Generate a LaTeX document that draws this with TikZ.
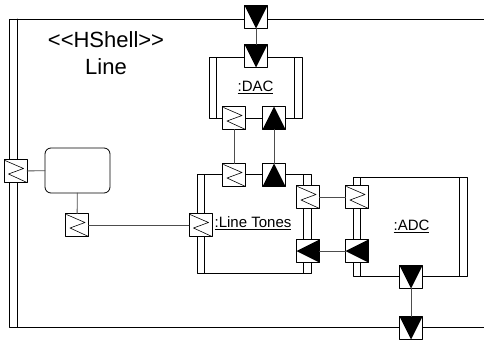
\documentclass[tikz,border=0pt]{standalone}
\usepackage{fontspec}
\setmainfont{Liberation Sans}
\usepackage{tikz}
\usetikzlibrary{arrows.meta,positioning}
\definecolor{ink}{HTML}{000000}
\definecolor{wire}{HTML}{4D4D4D}
\tikzset{
    every picture/.style={line cap=round,line join=round},
    portbox/.style={draw=ink,fill=white,line width=0.8pt,
      minimum size=23pt,inner sep=0pt,outer sep=0pt},
    relayport/.style={portbox,path picture={
      \draw[ink,line width=0.6pt]
        ([shift={(1pt,-1pt)}]path picture bounding box.north west)
        -- ++(18.5pt,-8pt) -- ++(-15pt,-5.5pt)
        -- (path picture bounding box.south east);}},
    downport/.style={portbox,path picture={
      \fill[ink] (path picture bounding box.north west)
        -- (path picture bounding box.north east)
        -- (path picture bounding box.south) -- cycle;}},
    upport/.style={portbox,path picture={
      \fill[ink] (path picture bounding box.south west)
        -- (path picture bounding box.south east)
        -- (path picture bounding box.north) -- cycle;}},
    leftport/.style={portbox,path picture={
      \fill[ink] (path picture bounding box.north east)
        -- (path picture bounding box.south east)
        -- (path picture bounding box.west) -- cycle;}},
    capsule/.style={draw=ink,fill=white,line width=0.8pt,inner sep=0pt,outer sep=0pt,
      font=\fontsize{15}{18}\selectfont,path picture={
      \draw[ink,line width=0.8pt]
        ([xshift=7.5pt]path picture bounding box.north west)
        -- ([xshift=7.5pt]path picture bounding box.south west);
      \draw[ink,line width=0.8pt]
        ([xshift=-7.5pt]path picture bounding box.north east)
        -- ([xshift=-7.5pt]path picture bounding box.south east);}},
    shellbox/.style={draw=ink,fill=white,line width=0.8pt,rounded corners=6pt,
      minimum width=65pt,minimum height=45pt,outer sep=0pt},
    wire/.style={draw=wire,line width=0.8pt}
}

\begin{document}
\begin{tikzpicture}[x=1pt,y=-1pt]
  \useasboundingbox (0,0) rectangle (484,340);

  % the HShell frame
  \draw[ink,line width=0.8pt] (484,19) -- (9,19) -- (9,327) -- (484,327);
  \draw[ink,line width=0.8pt] (17,19) -- (17,327);
  \node[font=\fontsize{22}{27}\selectfont,align=center] (title) at (106,53.5)
    {<\kern0pt<HShell>\kern0pt>\\Line};

  % parts
  \node[capsule,minimum width=93pt,minimum height=61pt] (dac) at (255.5,87.5) {\underline{:DAC}};
  \node[capsule,minimum width=114pt,minimum height=99pt] (tones) at (254,223.5) {\underline{:Line Tones}\hspace*{2pt}};
  \node[capsule,minimum width=114pt,minimum height=99pt] (adc) at (410,226.5) {\hspace*{3pt}\underline{:ADC}};
  \node[shellbox] (shell) at (77.5,170.5) {};

  % ports
  \node[downport] (ftop) at (256,17) {};
  \node[downport] (fbot) at (411,328) {};
  \node[relayport] (fleft) at (15.5,171) {};
  \node[relayport] (shellp) at (77,225) {};
  \node[downport] (dacin) at (256,56) {};
  \node[relayport] (dacrel) at (234,118) {};
  \node[upport] (dacout) at (274,118) {};
  \node[relayport] (tonesrel) at (234,175) {};
  \node[upport] (tonesin) at (274,175) {};
  \node[relayport] (tonesl) at (200.5,225) {};
  \node[relayport] (tonesr) at (308,197) {};
  \node[leftport] (tonesout) at (308,251) {};
  \node[relayport] (adcrel) at (357,197) {};
  \node[leftport] (adcin) at (357,251) {};
  \node[downport] (adcout) at (411,277) {};

  % connectors
  \draw[wire] (ftop) -- (dacin);
  \draw[wire] (dacrel) -- (tonesrel);
  \draw[wire] (dacout) -- (tonesin);
  \draw[wire] (fleft) -- (shell);
  \draw[wire] (shell) -- (shellp);
  \draw[wire] (shellp) -- (tonesl);
  \draw[wire] (tonesr) -- (adcrel);
  \draw[wire] (tonesout) -- (adcin);
  \draw[wire] (adcout) -- (fbot);
\end{tikzpicture}
\end{document}
